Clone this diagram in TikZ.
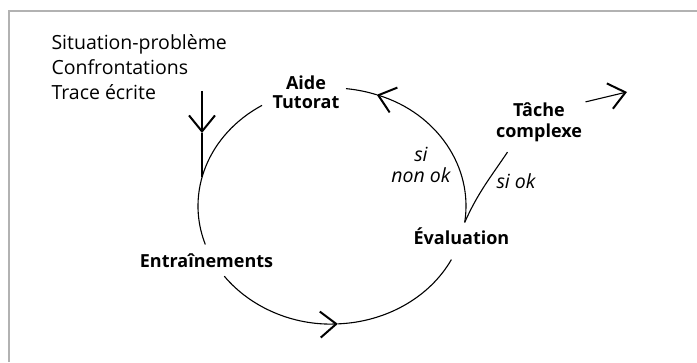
\documentclass[tikz,border=0pt]{standalone}
\usepackage{fontspec}
\setmainfont{Open Sans}
\usetikzlibrary{arrows.meta,calc}

\begin{document}
\begin{tikzpicture}[x=1pt,y=1pt,
		>={Straight Barb[length=16pt,width=26pt,line width=2pt]},
		every node/.style={font=\fontsize{19.5}{25}\selectfont},
		step label/.style={font=\fontsize{18}{18.5}\selectfont\bfseries, align=center},
		cond/.style={font=\fontsize{19.5}{21}\selectfont\itshape, align=center},
		loop/.style={line width=1.1pt}]
			\useasboundingbox (0,0) rectangle (697,362);
			\draw[gray!60, line width=1.5pt] (9,0) -- (9,351) -- (697,351);

			\node[anchor=base west] (src1) at (48,312) {Situation-problème};
			\node[anchor=base west] (src2) at (48,287) {Confrontations};
			\node[anchor=base west] (src3) at (48,262) {Trace écrite};

			\node[step label] (aide) at (306,269.5) {Aide\\Tutorat};
			\node[step label, anchor=base] (entr) at (206.5,94) {Entraînements};
			\node[step label, anchor=base] (eval) at (461.5,117) {Évaluation};
			\node[step label, font=\fontsize{18}{21}\selectfont\bfseries] (tache) at (539,240) {Tâche\\complexe};

			\node[cond] (nonok) at (421,197.5) {si\\non ok};
			\node[cond, anchor=base] (ok) at (516,173) {si ok};

			\coordinate (c) at (332,156);
			\coordinate (in) at (202,271);
			\coordinate (mid) at (202,229);
			\coordinate (join) at (202,184.5);
			\coordinate (out) at (627,270);

			\draw[loop] (c) ++(121.5:134 and 118) arc[start angle=121.5, end angle=199, x radius=134, y radius=118];
			\draw[loop,->] (c) ++(216.5:134 and 118) arc[start angle=216.5, end angle=272.5, x radius=134, y radius=118];
			\draw[loop] (c) ++(272.5:134 and 118) arc[start angle=272.5, end angle=333, x radius=134, y radius=118];
			\draw[loop,->] (c) ++(-8:134 and 118) arc[start angle=-8, end angle=70.5, x radius=134, y radius=118];
			\draw[loop] (c) ++(70.5:134 and 118) arc[start angle=70.5, end angle=84, x radius=134, y radius=118];

			\draw[loop,->] (in) -- (mid);
			\draw[loop] (mid) -- (join);

			\draw[loop] (c) ++(-8:134 and 118) to[out=66,in=236] ([xshift=15pt,yshift=-7pt]tache.south west);
			\draw[loop,->] ([shift={(0,-3)}]tache.north east) -- (out);
	\end{tikzpicture}
\end{document}
